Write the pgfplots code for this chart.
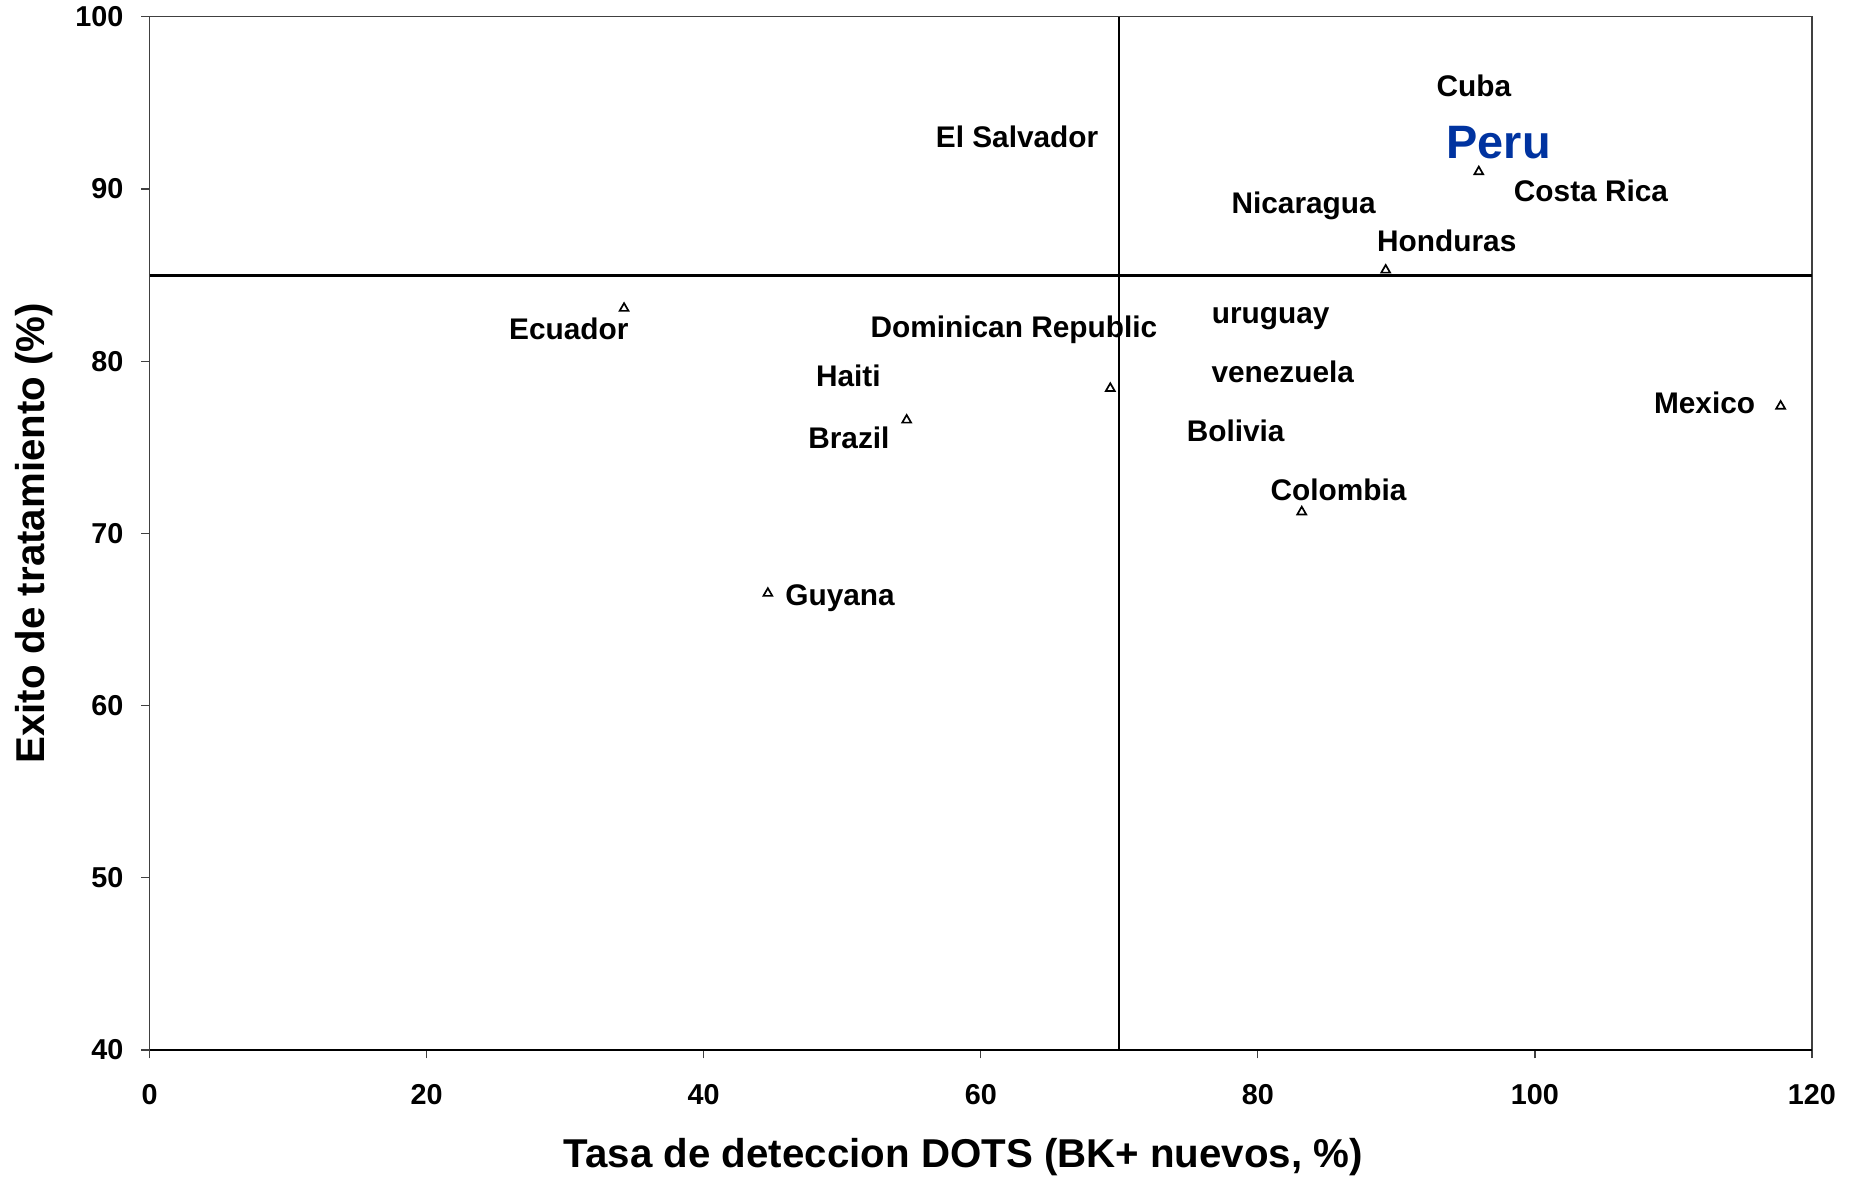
\documentclass[border=0pt]{standalone}
\usepackage{fontspec}
\setmainfont{Liberation Sans}
\usepackage{pgfplots}
\pgfplotsset{compat=1.18}
\usetikzlibrary{calc}
\definecolor{perublue}{RGB}{0,51,160}
\tikzset{lbl/.style={anchor=base, inner sep=0pt, font=\bfseries\fontsize{14}{17}\selectfont}}
\begin{document}
\begin{tikzpicture}
\useasboundingbox (-70.24pt,-60.57pt) rectangle (797.9pt,492.98pt);
\begin{axis}[
  scale only axis, width=780.5pt, height=485.1pt,
  xmin=0, xmax=120, ymin=40, ymax=100,
  xtick={0,20,...,120}, ytick={40,50,...,100},
  tick align=outside, major tick length=4pt,
  xtick pos=bottom, ytick pos=left,
  axis line style={black!75, line width=0.6pt},
  tick style={black!75, line width=0.6pt},
  clip=false,
  /pgf/number format/assume math mode=true,
  ticklabel style={font=\bfseries\fontsize{13.5}{15}\selectfont},
  xticklabel style={anchor=base, inner sep=0pt, yshift=-21.4pt},
  yticklabel style={anchor=east, inner sep=0pt, xshift=-8.1pt},
  xlabel={Tasa de deteccion DOTS (BK+ nuevos, \%)},
  xlabel style={font=\bfseries\fontsize{18.9}{22}\selectfont, at={(axis description cs:0.4895,0)}, anchor=base, inner sep=0pt, yshift=-55.4pt},
  ylabel={Exito de tratamiento (\%)},
  ylabel style={font=\bfseries\fontsize{18.9}{22}\selectfont, at={($(axis description cs:0,0.5)+(-54pt,0)$)}, anchor=center, inner sep=0pt},
]
\addplot[black, line width=1.3pt] coordinates {(0,40) (120,40)};
\addplot[black, line width=1.4pt] coordinates {(0,85) (120,85)};
\addplot[black, line width=1pt] coordinates {(70,40) (70,100)};
\addplot[only marks, mark=triangle, mark size=2.4pt, mark options={black, line width=0.8pt, fill=white}] coordinates {
  (34.25,83.07) (44.63,66.52) (54.65,76.58) (69.35,78.42)
  (83.17,71.25) (89.23,85.29) (95.95,91.0) (117.74,77.39)
};
\node[lbl] at (axis cs:95.60,95.35) {Cuba};
\node[lbl, font=\bfseries\fontsize{22}{26}\selectfont, text=perublue] at (axis cs:97.38,91.78) {Peru};
\node[lbl] at (axis cs:62.62,92.38) {El Salvador};
\node[lbl] at (axis cs:104.05,89.26) {Costa Rica};
\node[lbl] at (axis cs:83.31,88.58) {Nicaragua};
\node[lbl] at (axis cs:93.64,86.35) {Honduras};
\node[lbl] at (axis cs:80.93,82.20) {uruguay};
\node[lbl] at (axis cs:62.39,81.38) {Dominican Republic};
\node[lbl] at (axis cs:30.26,81.23) {Ecuador};
\node[lbl] at (axis cs:50.44,78.51) {Haiti};
\node[lbl] at (axis cs:81.80,78.77) {venezuela};
\node[lbl] at (axis cs:112.25,76.97) {Mexico};
\node[lbl] at (axis cs:78.40,75.32) {Bolivia};
\node[lbl] at (axis cs:50.48,74.94) {Brazil};
\node[lbl] at (axis cs:85.82,71.93) {Colombia};
\node[lbl] at (axis cs:49.84,65.84) {Guyana};
\end{axis}
\end{tikzpicture}
\end{document}
